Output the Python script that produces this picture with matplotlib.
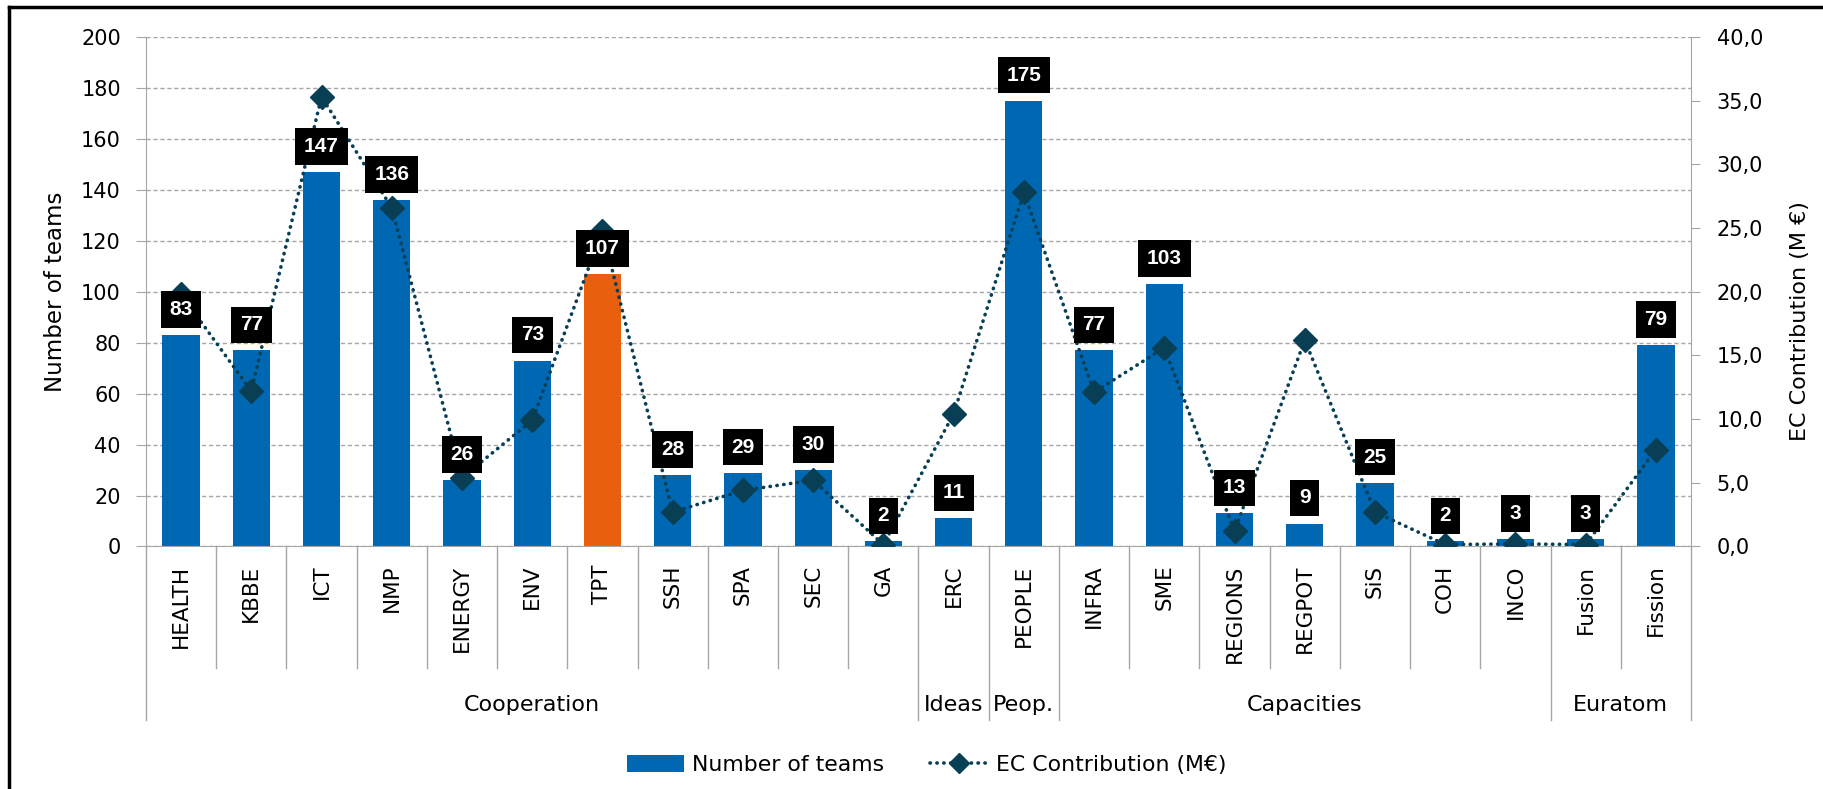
import matplotlib
matplotlib.use("Agg")
import matplotlib.pyplot as plt
from matplotlib.lines import Line2D
from matplotlib.patches import Patch
from matplotlib.ticker import FuncFormatter, MultipleLocator

plt.rcParams['font.family'] = ['DejaVu Sans']

# data
programmes = ['HEALTH', 'KBBE', 'ICT', 'NMP', 'ENERGY', 'ENV', 'TPT', 'SSH', 'SPA', 'SEC', 'GA',
              'ERC', 'PEOPLE', 'INFRA', 'SME', 'REGIONS', 'REGPOT', 'SiS', 'COH', 'INCO',
              'Fusion', 'Fission']
teams = [83, 77, 147, 136, 26, 73, 107, 28, 29, 30, 2, 11, 175, 77, 103, 13, 9, 25, 2, 3, 3, 79]
ec_contribution = [19.8, 12.2, 35.3, 26.6, 5.4, 9.9, 24.8, 2.7, 4.4, 5.2, 0.15, 10.4, 27.8,
                   12.1, 15.6, 1.2, 16.2, 2.7, 0.15, 0.2, 0.15, 7.6]
groups = ['Cooperation', 'Ideas', 'Peop.', 'Capacities', 'Euratom']
group_sizes = [11, 1, 1, 7, 2]
highlight = 'TPT'

BLUE = '#0067b3'
ORANGE = '#e8600e'
TEAL = '#083f54'
GREY = '#a6a6a6'
DOTS = (0, (0.1, 1.8))

fig = plt.figure(figsize=(18.24, 7.89), dpi=100)
ax = fig.add_axes([0.0800, 0.3074, 0.8471, 0.6457])
ax2 = ax.twinx()

x = list(range(len(programmes)))
colors = [ORANGE if p == highlight else BLUE for p in programmes]
ax.bar(x, teams, width=0.53, color=colors, zorder=2)

ax2.plot(x, ec_contribution, color=TEAL, linewidth=2.6, linestyle=DOTS,
         dash_capstyle='round', marker='D', markersize=12, zorder=3)

# black value boxes above the bars
for i, v in enumerate(teams):
    ax2.annotate(str(v), xy=(i, v), xycoords=ax.transData, xytext=(0, 18.4),
                 textcoords='offset points', ha='center', va='center',
                 color='white', fontsize=15, fontweight='bold', zorder=5,
                 family=['Liberation Sans', 'DejaVu Sans'],
                 bbox=dict(boxstyle='square,pad=0.42', fc='black', ec='none'))

ax.set_xlim(-0.5, len(programmes) - 0.5)
ax.set_ylim(0, 200)
ax2.set_ylim(0, 40)
ax.yaxis.set_major_locator(MultipleLocator(20))
ax2.yaxis.set_major_locator(MultipleLocator(5))
ax2.yaxis.set_major_formatter(FuncFormatter(lambda v, p: f"{v:.1f}".replace('.', ',')))

ax.set_axisbelow(True)
ax.yaxis.grid(True, color=GREY, linestyle=(0, (3, 2)), linewidth=1)

for a in (ax, ax2):
    a.spines['top'].set_visible(False)
ax.spines['right'].set_visible(False)
ax2.spines['left'].set_visible(False)
ax2.spines['bottom'].set_visible(False)
ax.spines['left'].set_color(GREY)
ax.spines['bottom'].set_color(GREY)
ax2.spines['right'].set_color(GREY)

ax.tick_params(axis='y', labelsize=15, length=7, color=GREY, pad=11)
ax2.tick_params(axis='y', labelsize=15, length=6.5, color=GREY, pad=12)
ax.set_xticks(x)
ax.set_xticklabels(programmes, rotation=90, va='top', fontsize=15.5)
ax.tick_params(axis='x', length=0, pad=13)

ax.set_ylabel('Number of teams', fontsize=16.5)
ax.yaxis.set_label_coords(-0.051, 0.5)
ax2.set_ylabel('EC Contribution (M €)', fontsize=16)
ax2.yaxis.set_label_coords(1.064, 0.442)

# category separators and group boxes below the axis
trans = ax.get_xaxis_transform()
bounds = [-0.5]
for s in group_sizes:
    bounds.append(bounds[-1] + s)
for k in range(len(programmes) + 1):
    xb = k - 0.5
    y_end = -0.341 if xb in bounds else -0.238
    ax.plot([xb, xb], [0, y_end], transform=trans, color=GREY, linewidth=1, clip_on=False)
for g, lo, hi in zip(groups, bounds[:-1], bounds[1:]):
    ax.text((lo + hi) / 2, -0.311, g, transform=trans, ha='center', va='center', fontsize=16)

handles = [Patch(facecolor=BLUE, edgecolor='none'),
           Line2D([], [], color=TEAL, linewidth=2.6, linestyle=DOTS,
                  dash_capstyle='round', marker='D', markersize=10)]
fig.legend(handles, ['Number of teams', 'EC Contribution (M€)'], loc='center',
           bbox_to_anchor=(0.508, 0.0304), ncol=2, frameon=False, fontsize=15.8,
           handlelength=2.6, handleheight=0.82, handletextpad=0.37, columnspacing=2.1)

# chart border (only left and top visible in the reference)
fig.add_artist(Line2D([0.0049, 0.0049], [0, 0.9911], color='black', linewidth=2.5))
fig.add_artist(Line2D([0.0049, 1], [0.9911, 0.9911], color='black', linewidth=2.5))

fig.savefig('out.png', dpi=100)
